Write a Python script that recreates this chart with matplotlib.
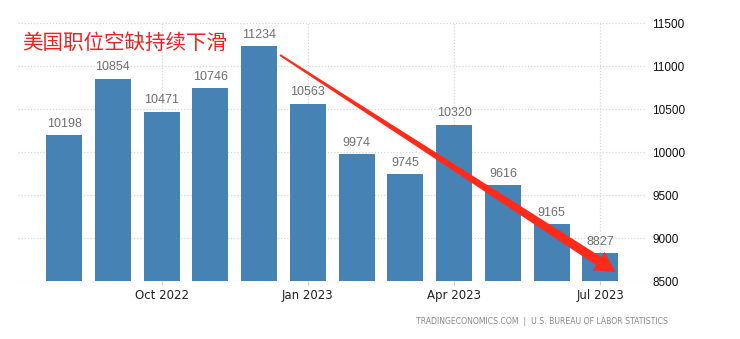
import matplotlib
matplotlib.use("Agg")
import matplotlib.pyplot as plt
from matplotlib.patches import Polygon
import numpy as np

plt.rcParams['font.family'] = ['Noto Sans CJK SC', 'DejaVu Sans']

months = ["Aug 2022", "Sep 2022", "Oct 2022", "Nov 2022", "Dec 2022", "Jan 2023",
          "Feb 2023", "Mar 2023", "Apr 2023", "May 2023", "Jun 2023", "Jul 2023"]
openings = [10198, 10854, 10471, 10746, 11234, 10563, 9974, 9745, 10320, 9616, 9165, 8827]
tick_labels = ["Oct 2022", "Jan 2023", "Apr 2023", "Jul 2023"]
y_ticks = [8500, 9000, 9500, 10000, 10500, 11000, 11500]
title = "美国职位空缺持续下滑"
source = "TRADINGECONOMICS.COM  |  U.S. BUREAU OF LABOR STATISTICS"

fig = plt.figure(figsize=(7.4, 3.39), dpi=100)
ax = fig.add_axes([0.024, 0.171, 0.848, 0.761])

x = np.arange(len(months))
bar_color = "#4682b4"
ax.bar(x, [v - 8500 for v in openings], bottom=8500, width=0.74, color=bar_color, zorder=3)
for xi, v in zip(x, openings):
    ax.text(xi, v + 60, f"{v}", ha="center", va="bottom", fontsize=9,
            color="#707070", family="Liberation Sans", zorder=4)

ax.set_xlim(-0.95, 11.92)
ax.set_ylim(8500, 11500)

tick_pos = [months.index(t) for t in tick_labels]
ax.set_xticks(tick_pos)
ax.set_xticklabels(tick_labels, fontsize=8.5, color="#222222", family="DejaVu Sans")
ax.tick_params(axis="x", length=3, color="#cccccc", pad=3)

ax.yaxis.tick_right()
ax.set_yticks(y_ticks)
ax.set_yticklabels([str(t) for t in y_ticks], fontsize=8.5, color="#111111", family="Liberation Sans")
ax.tick_params(axis="y", length=0, pad=5)

ax.grid(True, which="major", axis="both", color="#d8d8d8", linestyle=(0, (1, 1.5)), linewidth=0.9, zorder=0)
for s in ax.spines.values():
    s.set_visible(False)

# title text
fig.text(22 / 740, 1 - 43 / 339, title, color="#ee2222", fontsize=14.8, ha="left", va="center",
         family=["Noto Sans CJK SC", "DejaVu Sans"])

# source
fig.text(668 / 740, 1 - 322 / 339, source, color="#8a8a8a", fontsize=5.6, ha="right", va="center",
         family="DejaVu Sans")

# tapered red arrow
fig.canvas.draw()
start = ax.transData.transform((4.43, 11128))
end = ax.transData.transform((11.31, 8605))
d = end - start
L = np.hypot(*d)
u = d / L
n = np.array([-u[1], u[0]])
head_len = 20
head_w = 11
w0, w1 = 1.0, 4.8
base = end - u * head_len
pts = [start + n * w0, base + n * w1, base + n * head_w, end,
       base - n * head_w, base - n * w1, start - n * w0]
poly = Polygon(pts, closed=True, transform=None, facecolor="#ff2a1a", edgecolor="none", zorder=10)
fig.patches.append(poly)

fig.savefig("out.png", dpi=100)
